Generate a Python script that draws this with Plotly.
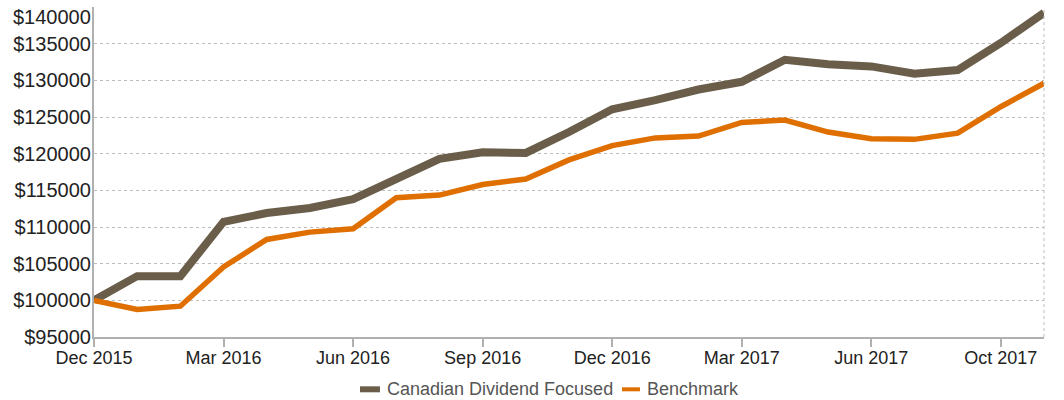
import plotly.graph_objects as go

months = ["Dec 2015", "Jan 2016", "Feb 2016", "Mar 2016", "Apr 2016", "May 2016", "Jun 2016",
          "Jul 2016", "Aug 2016", "Sep 2016", "Oct 2016", "Nov 2016", "Dec 2016",
          "Jan 2017", "Feb 2017", "Mar 2017", "Apr 2017", "May 2017", "Jun 2017",
          "Jul 2017", "Aug 2017", "Sep 2017", "Oct 2017"]

canadian_dividend = [100000, 103300, 103300, 110700, 111900, 112600, 113800, 116500, 119300,
                     120200, 120100, 122950, 126050, 127300, 128750, 129800, 132800, 132200,
                     131900, 130900, 131400, 135100, 139200]
benchmark = [100000, 98750, 99200, 104550, 108300, 109300, 109750, 114000, 114350,
             115800, 116550, 119150, 121100, 122150, 122400, 124250, 124580, 122950,
             122050, 121950, 122800, 126400, 129600]

series_names = ["Canadian Dividend Focused", "Benchmark"]
series_colors = ["#6a5e4a", "#df6f00"]

tick_positions = [0, 3, 6, 9, 12, 15, 18, 21]
tick_labels = ["Dec 2015", "Mar 2016", "Jun 2016", "Sep 2016", "Dec 2016", "Mar 2017", "Jun 2017", "Oct 2017"]
y_ticks = list(range(95000, 140001, 5000))
y_tick_labels = ["$" + str(v) for v in y_ticks]

x = list(range(len(months)))

fig = go.Figure()
fig.add_trace(go.Scatter(x=x, y=canadian_dividend, mode="lines", name=series_names[0],
                         line=dict(color=series_colors[0], width=8), customdata=months,
                         hovertemplate="%{customdata}: $%{y}<extra></extra>"))
fig.add_trace(go.Scatter(x=x, y=benchmark, mode="lines", name=series_names[1],
                         line=dict(color=series_colors[1], width=5.5), customdata=months,
                         hovertemplate="%{customdata}: $%{y}<extra></extra>"))

# y tick text: top label drawn as annotation nudged down (as in the reference)
shown_y_text = [t if v != y_ticks[-1] else "" for v, t in zip(y_ticks, y_tick_labels)]

annotations = [dict(xref="paper", yref="y", x=0, y=y_ticks[-1], xanchor="right", yanchor="middle",
                    xshift=-1, yshift=-10, text=y_tick_labels[-1], showarrow=False,
                    font=dict(size=20, color="#222222"))]
# custom legend (short line samples)
legend_y = -0.1585
annotations += [
    dict(xref="paper", yref="paper", x=0.3063, y=legend_y, xanchor="left", yanchor="middle",
         text=series_names[0], showarrow=False, font=dict(size=18, color="#555555")),
    dict(xref="paper", yref="paper", x=0.58, y=legend_y, xanchor="left", yanchor="middle",
         text=series_names[1], showarrow=False, font=dict(size=18, color="#555555")),
]
shapes = [
    dict(type="line", xref="paper", yref="paper", x0=1, x1=1, y0=0, y1=1,
         line=dict(color="#bdbdbd", width=1, dash="dot")),
    dict(type="line", xref="paper", yref="paper", x0=0.28, x1=0.301, y0=legend_y, y1=legend_y,
         line=dict(color=series_colors[0], width=6)),
    dict(type="line", xref="paper", yref="paper", x0=0.5558, x1=0.5747, y0=legend_y, y1=legend_y,
         line=dict(color=series_colors[1], width=4)),
]

fig.update_layout(
    width=1064, height=400,
    margin=dict(l=94, r=20, t=7, b=63, autoexpand=False),
    plot_bgcolor="white", paper_bgcolor="white",
    font=dict(family="Liberation Sans, Arial, sans-serif", color="#222222"),
    showlegend=False,
    xaxis=dict(range=[0, 22], tickmode="array", tickvals=tick_positions, ticktext=tick_labels,
               showgrid=False, zeroline=False, showline=True, linecolor="#b0b0b0", linewidth=2,
               ticks="outside", ticklen=8, tickcolor="#b0b0b0", tickwidth=2,
               ticklabelstandoff=-5,
               tickfont=dict(size=18, color="#222222"), automargin=False),
    yaxis=dict(range=[95000, 140000], tickmode="array", tickvals=y_ticks, ticktext=shown_y_text,
               showgrid=True, gridcolor="#bdbdbd", griddash="dot", gridwidth=1,
               zeroline=False, showline=True, linecolor="#b0b0b0", linewidth=2,
               ticks="", ticklabelstandoff=-3,
               tickfont=dict(size=20, color="#222222"), automargin=False),
    shapes=shapes,
    annotations=annotations,
)

fig.write_html("out.html", config={"displayModeBar": False},
               post_script="document.body.style.margin='0px';")
